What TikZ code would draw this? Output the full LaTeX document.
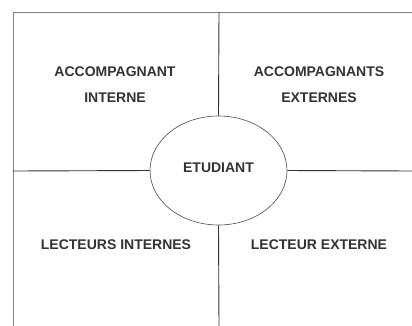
\documentclass[tikz,border=0pt]{standalone}
\usepackage{fontspec}
\setmainfont{Liberation Sans}
\usetikzlibrary{shapes.geometric}
\begin{document}
\begin{tikzpicture}[x=1pt,y=1pt,
  lbl/.style={font=\fontsize{14}{26}\selectfont\bfseries, text=black!80, align=center, inner sep=0pt},
  frame/.style={draw=black!50, line width=1pt},
  divider/.style={draw=black!80, line width=0.9pt},
  etudbox/.style={ellipse, draw=black!70, line width=0.6pt, fill=white, minimum width=137pt, minimum height=109pt, inner sep=0pt, font=\fontsize{14}{16}\selectfont\bfseries, text=black!80}]
\useasboundingbox (0,0) rectangle (412,-325);
\fill[white] (0,0) rectangle (412,-325);
\coordinate (tl) at (13,-12);
\coordinate (tr) at (413,-12);
\coordinate (bl) at (13,-326);
\draw[frame] (bl) -- (tl) -- (tr);
\node[etudbox] (etud) at (218.5,-170.5) {\raisebox{5pt}{ETUDIANT}};
\coordinate (vtop) at (219,-12);
\coordinate (vbot) at (219,-326);
\coordinate (hleft) at (13,-171);
\coordinate (hright) at (413,-171);
\draw[divider] (vtop) -- (etud.north);
\draw[divider] (etud.south) -- (vbot);
\draw[divider] (hleft) -- (etud.west);
\draw[divider] (etud.east) -- (hright);
\node[lbl] (ai) at (115,-85) {ACCOMPAGNANT\\INTERNE};
\node[lbl] (ae) at (319,-85) {ACCOMPAGNANTS\\EXTERNES};
\node[lbl] (li) at (116,-245) {LECTEURS INTERNES};
\node[lbl] (le) at (319,-245) {LECTEUR EXTERNE};
\end{tikzpicture}
\end{document}
